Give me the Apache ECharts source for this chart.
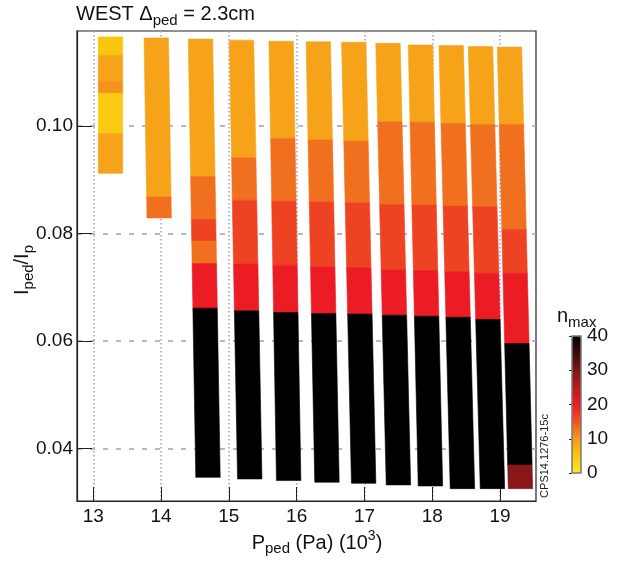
<!DOCTYPE html>
<html>
<head>
<meta charset="utf-8">
<script src="https://cdn.jsdelivr.net/npm/echarts@6/dist/echarts.min.js"></script>
<style>
html,body{margin:0;padding:0;background:#fff;}
#chart{width:621px;height:562px;}
</style>
</head>
<body>
<div id="chart"></div>
<script>
// ---- data ----
// P_ped (10^3 Pa) at the top and at the bottom of each scanned column
const columnPTop    = [13.254, 13.929, 14.581, 15.186, 15.771, 16.319, 16.842, 17.347, 17.826, 18.279, 18.711, 19.139];
const columnPBottom = [13.254, 13.972, 14.692, 15.308, 15.882, 16.447, 16.988, 17.501, 17.973, 18.445, 18.888, 19.301];
// I_ped/I_p cell boundaries (top -> bottom) for each column
const columnEdges = [
  [0.1166, 0.1132, 0.1083, 0.1061, 0.0986, 0.0912],
  [0.1164, 0.0868, 0.0829],
  [0.1162, 0.0906, 0.0826, 0.0786, 0.0744, 0.0661, 0.0346],
  [0.1160, 0.0941, 0.0862, 0.0743, 0.0656, 0.0343],
  [0.1158, 0.0977, 0.0860, 0.0741, 0.0653, 0.0340],
  [0.1157, 0.0974, 0.0859, 0.0738, 0.0651, 0.0337],
  [0.1156, 0.0972, 0.0857, 0.0736, 0.0650, 0.0335],
  [0.1154, 0.1008, 0.0854, 0.0732, 0.0648, 0.0332],
  [0.1151, 0.1007, 0.0853, 0.0731, 0.0646, 0.0330],
  [0.1150, 0.1005, 0.0851, 0.0729, 0.0644, 0.0325],
  [0.1148, 0.1003, 0.0850, 0.0726, 0.0640, 0.0325],
  [0.1147, 0.1003, 0.0808, 0.0726, 0.0595, 0.0369, 0.0325]
];
// n_max value of each cell (top -> bottom)
const columnNmax = [
  [5, 9, 10.5, 4.5, 9],
  [9, 13],
  [9, 13, 16.5, 13, 20, 40],
  [9, 13, 16.5, 20, 40],
  [9, 13, 16.5, 20, 40],
  [9, 13, 16.5, 20, 40],
  [9, 13, 16.5, 20, 40],
  [9, 13, 16.5, 20, 40],
  [9, 13, 16.5, 20, 40],
  [9, 13, 16.5, 20, 40],
  [9, 13, 16.5, 20, 40],
  [9, 13, 16.5, 20, 40, 29]
];
const cellWidthP = 0.36;               // P-resolution of a scan column
const xTicks = [13, 14, 15, 16, 17, 18, 19];
const yTicks = [0.04, 0.06, 0.08, 0.10];
const nmaxTicks = [0, 10, 20, 30, 40];
const nmaxColors = ['#f7ec1f', '#f9c60f', '#f59a1b', '#ef5422', '#eb1c24', '#b71a1f', '#7c1616', '#3a0b0b', '#000000'];

// ---- build cells ----
const cells = [];
columnEdges.forEach((edges, c) => {
  const iT = edges[0], iB = edges[edges.length - 1];
  const pAt = I => columnPTop[c] + (columnPBottom[c] - columnPTop[c]) * (iT - I) / (iT - iB);
  columnNmax[c].forEach((n, k) => {
    const a = edges[k], b = edges[k + 1];
    cells.push([pAt(a), pAt(b), a, b, n]);
  });
});

const FONT = 'Liberation Sans';
const chart = echarts.init(document.getElementById('chart'), null, {renderer: 'canvas'});
chart.setOption({
  animation: false,
  backgroundColor: '#fff',
  grid: [
    {left: 77, top: 31, width: 459, height: 470, show: true, borderColor: '#222', borderWidth: 1.2, backgroundColor: 'transparent'},
    {left: 572, top: 336, width: 9, height: 137, show: true, borderColor: '#7a7a7a', borderWidth: 1.5, backgroundColor: 'transparent', z: 10}
  ],
  xAxis: [
    {
      type: 'value', gridIndex: 0, min: 12.76, max: 19.53,
      axisLine: {show: true, onZero: false, lineStyle: {color: '#222', width: 1.2}},
      axisTick: {show: true, inside: true, length: 14, customValues: xTicks, lineStyle: {color: '#222', width: 1}},
      axisLabel: {customValues: xTicks, fontSize: 19, color: '#111', margin: 6, fontFamily: FONT},
      splitLine: {show: true, lineStyle: {type: [1.5, 2.5], color: '#9aa0c6', width: 1.5}}
    },
    {type: 'value', gridIndex: 1, min: 0, max: 1, show: false}
  ],
  yAxis: [
    {
      type: 'value', gridIndex: 0, min: 0.0302, max: 0.1177,
      axisLine: {show: true, onZero: false, lineStyle: {color: '#222', width: 1.2}},
      axisTick: {show: true, inside: true, length: 15, customValues: yTicks, lineStyle: {color: '#222', width: 1}},
      axisLabel: {customValues: yTicks, fontSize: 19, color: '#111', margin: 4, fontFamily: FONT,
        formatter: v => v.toFixed(2)},
      splitLine: {show: true, lineStyle: {type: [5, 8], color: '#9aa0c6', width: 1.5}}
    },
    {
      type: 'value', gridIndex: 1, min: 0, max: 40, interval: 10, position: 'right',
      axisLine: {show: false},
      axisTick: {show: true, inside: true, length: 3, lineStyle: {color: '#222'}},
      axisLabel: {fontSize: 19, color: '#111', margin: 6, fontFamily: FONT, customValues: nmaxTicks},
      splitLine: {show: false}
    }
  ],
  visualMap: {
    type: 'continuous', min: 0, max: 40, dimension: 4, seriesIndex: 0,
    left: 572, top: 336, itemWidth: 9, itemHeight: 137, padding: 0,
    calculable: false, show: true, text: null,
    inRange: {color: nmaxColors}
  },
  series: [{
    type: 'custom', xAxisIndex: 0, yAxisIndex: 0, z: 3,
    data: cells,
    renderItem: (params, api) => {
      const hw = cellWidthP / 2;
      const pT = api.value(0), pB = api.value(1), iT = api.value(2), iB = api.value(3);
      const pts = [[pT - hw, iT], [pT + hw, iT], [pB + hw, iB], [pB - hw, iB]].map(p => api.coord(p));
      const col = api.visual('color');
      return {type: 'polygon', shape: {points: pts}, style: {fill: col, stroke: col, lineWidth: 0.6}};
    }
  }],
  graphic: [
    {type: 'text', x: 76, y: 14, z: 20, style: {
      text: '{m|WEST }{m|Δ}{s|ped}{m| = 2.3cm}', align: 'left', verticalAlign: 'middle',
      rich: {m: {fontSize: 20, fontFamily: FONT, fill: '#111'}, s: {fontSize: 15, fontFamily: FONT, fill: '#111', padding: [13, 0, 0, 0]}}
    }},
    {type: 'text', x: 22, y: 270, rotation: Math.PI / 2, z: 20, style: {
      text: '{m|I}{s|ped}{m|/I}{s|p}', align: 'center', verticalAlign: 'middle',
      rich: {m: {fontSize: 20, fontFamily: FONT, fill: '#111'}, s: {fontSize: 15, fontFamily: FONT, fill: '#111', padding: [13, 0, 0, 0]}}
    }},
    {type: 'text', x: 317, y: 543, z: 20, style: {
      text: '{m|P}{s|ped}{m| (Pa) (10}{u|3}{m|)}', align: 'center', verticalAlign: 'middle',
      rich: {m: {fontSize: 20, fontFamily: FONT, fill: '#111'}, s: {fontSize: 15, fontFamily: FONT, fill: '#111', padding: [12, 0, 0, 0]},
             u: {fontSize: 14, fontFamily: FONT, fill: '#111', padding: [0, 0, 14, 0]}}
    }},
    {type: 'text', x: 557, y: 316, z: 20, style: {
      text: '{m|n}{s|max}', align: 'left', verticalAlign: 'middle',
      rich: {m: {fontSize: 20, fontFamily: FONT, fill: '#111'}, s: {fontSize: 15, fontFamily: FONT, fill: '#111', padding: [13, 0, 0, 0]}}
    }},
    {type: 'text', x: 545, y: 456, rotation: Math.PI / 2, z: 20, style: {
      text: 'CPS14.1276-15c', align: 'center', verticalAlign: 'middle',
      fontSize: 11, fontFamily: FONT, fill: '#222'
    }}
  ]
});
</script>
</body>
</html>
